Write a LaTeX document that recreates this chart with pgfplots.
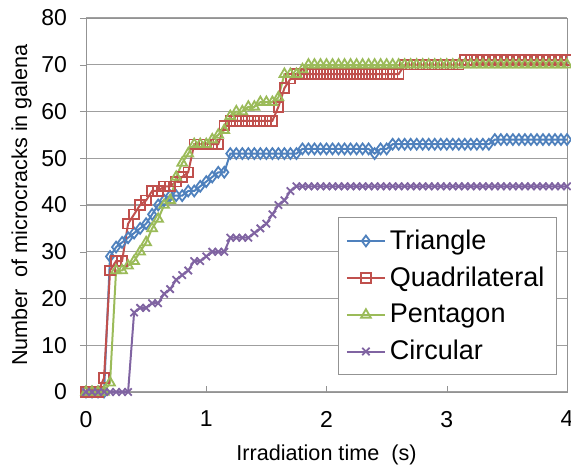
\documentclass[border=0pt]{standalone}
\usepackage{pgfplots}
\pgfplotsset{compat=1.18}
\usepackage{pgfplotstable}
\usepackage{fontspec}
\setmainfont{Liberation Sans}

\definecolor{cTri}{HTML}{4F81BD}
\definecolor{cQuad}{HTML}{C0504D}
\definecolor{cPent}{HTML}{9BBB59}
\definecolor{cCirc}{HTML}{8064A2}

% t  triangle  quadrilateral  pentagon  circular
\pgfplotstableread{
t    tri quad pent circ
0.00 0  0  0  0
0.05 0  0  0  0
0.10 0  0  0  0
0.15 0  3  0  0
0.20 29 26 2  0
0.25 31 28 26 0
0.30 32 28 26 0
0.35 33 36 27 0
0.40 34 38 28 17
0.45 35 40 30 18
0.50 36 41 32 18
0.55 38 43 35 19
0.60 40 43 37 19
0.65 41 44 40 21
0.70 42 44 41 22
0.75 42 45 46 24
0.80 42 46 49 25
0.85 43 47 51 26
0.90 43 53 53 28
0.95 44 53 53 28
1.00 45 53 53 29
1.05 46 53 54 30
1.10 47 53 55 30
1.15 47 57 56 30
1.20 51 58 59 33
1.25 51 58 60 33
1.30 51 58 60 33
1.35 51 58 61 33
1.40 51 58 61 34
1.45 51 58 62 35
1.50 51 58 62 36
1.55 51 58 62 38
1.60 51 61 63 40
1.65 51 65 68 41
1.70 51 67 68 43
1.75 51 68 68 44
1.80 52 68 69 44
1.85 52 68 70 44
1.90 52 68 70 44
1.95 52 68 70 44
2.00 52 68 70 44
2.05 52 68 70 44
2.10 52 68 70 44
2.15 52 68 70 44
2.20 52 68 70 44
2.25 52 68 70 44
2.30 52 68 70 44
2.35 52 68 70 44
2.40 51 68 70 44
2.45 52 68 70 44
2.50 52 68 70 44
2.55 53 68 70 44
2.60 53 68 70 44
2.65 53 70 70 44
2.70 53 70 70 44
2.75 53 70 70 44
2.80 53 70 70 44
2.85 53 70 70 44
2.90 53 70 70 44
2.95 53 70 70 44
3.00 53 70 70 44
3.05 53 70 70 44
3.10 53 70 70 44
3.15 53 71 70 44
3.20 53 71 70 44
3.25 53 71 70 44
3.30 53 71 70 44
3.35 53 71 70 44
3.40 54 71 70 44
3.45 54 71 70 44
3.50 54 71 70 44
3.55 54 71 70 44
3.60 54 71 70 44
3.65 54 71 70 44
3.70 54 71 70 44
3.75 54 71 70 44
3.80 54 71 70 44
3.85 54 71 70 44
3.90 54 71 70 44
3.95 54 71 70 44
4.00 54 71 70 44
}\crackdata

\begin{document}
\begin{tikzpicture}
  \begin{axis}[
      name=main,
      scale only axis,
      width=240.5pt, height=187pt,
      xmin=0, xmax=4, ymin=0, ymax=80,
      xtick={0,1,2,3,4}, ytick={0,10,...,80},
      axis line style={gray!85},
      tick style={gray!85},
      major tick length=3pt,
      xtick pos=bottom, ytick pos=left,
      xtick align=inside, ytick align=outside,
      ymajorgrids, grid style={gray!75, line width=0.6pt},
      /pgf/number format/assume math mode=true,
      tick label style={font=\fontsize{11.5}{13}\selectfont},
      yticklabel style={xshift=-3pt},
      xticklabel style={yshift=-6pt},
      label style={font=\fontsize{10.8}{13}\selectfont},
      xlabel={Irradiation time\ \ (s)},
      ylabel={Number\ \ of microcracks in galena},
      xlabel style={yshift=-2pt},
      ylabel style={yshift=-2pt},
      legend style={at={(0.979,0.045)}, anchor=south east,
        draw=gray!85, font=\fontsize{13.5}{16}\selectfont,
        row sep=3.3pt, inner xsep=4pt, inner ysep=4pt},
      legend cell align=left,
      legend image code/.code={%
        \draw[mark repeat=2, mark phase=2] plot coordinates {(0pt,0pt) (9.5pt,0pt) (19pt,0pt)};},
      every axis plot/.append style={line width=1pt, mark options={solid, fill=none, line width=0.9pt}},
    ]
    \addplot[cTri, mark=diamond, mark size=2.7pt] table[x=t, y=tri] {\crackdata};
    \addlegendentry{Triangle}
    \addplot[cQuad, mark=square, mark size=2.4pt] table[x=t, y=quad] {\crackdata};
    \addlegendentry{Quadrilateral}
    \addplot[cPent, mark=triangle, mark size=2.8pt] table[x=t, y=pent] {\crackdata};
    \addlegendentry{Pentagon}
    \addplot[cCirc, mark=x, mark size=2.6pt] table[x=t, y=circ] {\crackdata};
    \addlegendentry{Circular}
  \end{axis}
  \pgfresetboundingbox
  \path[use as bounding box] ([shift={(-43pt,-38pt)}]main.south west)
    rectangle ([shift={(2pt,9pt)}]main.north east);
\end{tikzpicture}
\end{document}
